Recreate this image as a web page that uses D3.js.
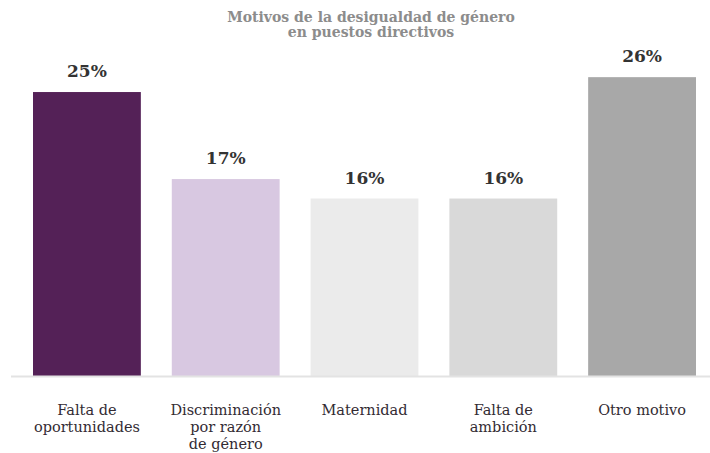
<!DOCTYPE html>
<html>
<head>
<meta charset="utf-8">
<script src="https://cdn.jsdelivr.net/npm/d3@7"></script>
<style>
  html, body { margin: 0; padding: 0; background: #fff; }
  svg { display: block; }
</style>
</head>
<body>
<svg id="chart" width="710" height="453"></svg>
<script>
const title = ["Motivos de la desigualdad de género", "en puestos directivos"];
const categories = [
  ["Falta de", "oportunidades"],
  ["Discriminación", "por razón", "de género"],
  ["Maternidad"],
  ["Falta de", "ambición"],
  ["Otro motivo"]
];
const values = [24.8, 17.2, 15.5, 15.5, 26.1];
const colors = ["#542157", "#d8c8e1", "#ebebeb", "#d9d9d9", "#a8a8a8"];

const W = 710, H = 453;
const baseY = 376;
const svg = d3.select("#chart");

const x = d3.scaleBand()
  .domain(d3.range(values.length))
  .range([33, 696])
  .paddingInner(0.223)
  .paddingOuter(0);

const y = d3.scaleLinear()
  .domain([0, 30])
  .range([baseY, baseY - 30 * 11.45]);

// Title
svg.append("text")
  .attr("x", 371)
  .attr("y", 22)
  .attr("text-anchor", "middle")
  .attr("font-family", "DejaVu Serif")
  .attr("font-weight", "bold")
  .attr("font-size", 14)
  .attr("fill", "#8c8c8c")
  .selectAll("tspan")
  .data(title)
  .join("tspan")
  .attr("x", 371)
  .attr("dy", (d, i) => i === 0 ? 0 : 15)
  .text(d => d);

// Bars
svg.append("g")
  .selectAll("rect")
  .data(values)
  .join("rect")
  .attr("x", (d, i) => x(i))
  .attr("y", d => y(d))
  .attr("width", x.bandwidth())
  .attr("height", d => y(0) - y(d))
  .attr("fill", (d, i) => colors[i]);

// Baseline
svg.append("line")
  .attr("x1", 11)
  .attr("x2", W)
  .attr("y1", baseY + 0.5)
  .attr("y2", baseY + 0.5)
  .attr("stroke", "#e3e3e3")
  .attr("stroke-width", 2);

// Value labels
svg.append("g")
  .selectAll("text")
  .data(values)
  .join("text")
  .attr("x", (d, i) => x(i) + x.bandwidth() / 2)
  .attr("y", d => y(d) - 15)
  .attr("text-anchor", "middle")
  .attr("font-family", "DejaVu Serif")
  .attr("font-weight", "bold")
  .attr("font-size", 17)
  .attr("fill", "#333")
  .text(d => Math.round(d) + "%");

// Category labels
const xAxis = d3.axisBottom(x).tickSize(0).tickFormat("");
const axisG = svg.append("g")
  .attr("transform", `translate(0,${baseY})`)
  .call(xAxis);
axisG.select(".domain").remove();

axisG.selectAll(".tick")
  .append("text")
  .attr("text-anchor", "middle")
  .attr("font-family", "DejaVu Serif")
  .attr("font-size", 14.5)
  .attr("fill", "#332b33")
  .attr("y", 39)
  .selectAll("tspan")
  .data(i => categories[i])
  .join("tspan")
  .attr("x", 0)
  .attr("dy", (d, j) => j === 0 ? 0 : 17)
  .text(d => d);
</script>
</body>
</html>
